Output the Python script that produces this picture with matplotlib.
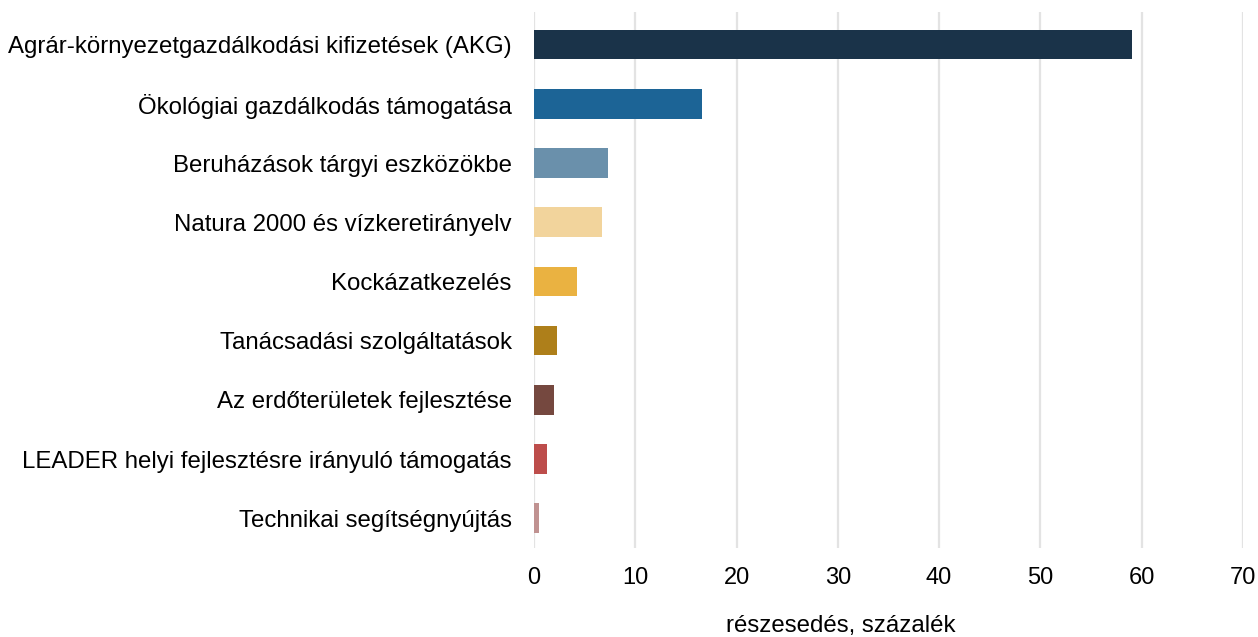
import matplotlib.pyplot as plt

plt.rcParams['font.family'] = ['Liberation Sans', 'DejaVu Sans']

# kategóriák felülről lefelé
categories = ['Agrár-környezetgazdálkodási kifizetések (AKG)',
              'Ökológiai gazdálkodás támogatása',
              'Beruházások tárgyi eszközökbe',
              'Natura 2000 és vízkeretirányelv',
              'Kockázatkezelés',
              'Tanácsadási szolgáltatások',
              'Az erdőterületek fejlesztése',
              'LEADER helyi fejlesztésre irányuló támogatás',
              'Technikai segítségnyújtás']
values = [59.0, 16.6, 7.3, 6.7, 4.25, 2.25, 1.95, 1.3, 0.5]
colors = ['#1a3349', '#1c6496', '#6a90ab', '#f2d49c', '#eab241',
          '#ae7f1a', '#75483f', '#bd4d4b', '#c09291']
xticks = [0, 10, 20, 30, 40, 50, 60, 70]

fig = plt.figure(figsize=(12.58, 6.37), dpi=100)
ax = fig.add_axes([0.4245, 0.140, 0.5635, 0.841])

ypos = list(range(len(categories)))
ax.barh(ypos, values, height=0.5, color=colors, zorder=3)
ax.set_yticks(ypos)
ax.set_yticklabels(categories, fontsize=17.3)
ax.set_ylim(len(categories) - 0.5, -0.55)

ax.set_xlim(0, 70)
ax.set_xticks(xticks)
ax.set_xticklabels([str(t) for t in xticks], fontsize=17)
ax.grid(axis='x', color='#e3e3e3', linewidth=1.6, zorder=0)
ax.tick_params(axis='y', length=0, pad=16)
ax.tick_params(axis='x', length=0, pad=14)
for s in ax.spines.values():
    s.set_visible(False)

fig.text(0.668, 0.0, 'részesedés, százalék', fontsize=17.3, ha='center', va='bottom')

fig.savefig('out.png', dpi=100)
